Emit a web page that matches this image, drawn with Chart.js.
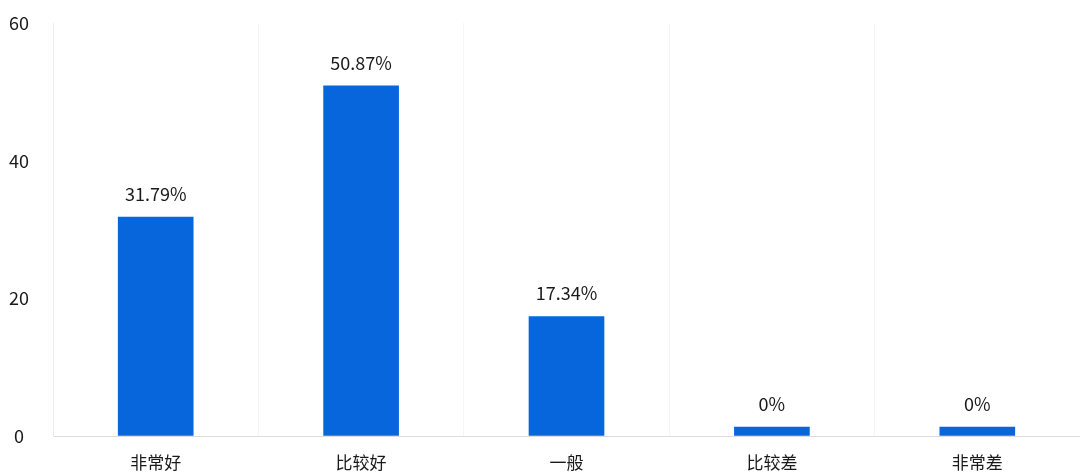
<!DOCTYPE html>
<html>
<head>
<meta charset="utf-8">
<script src="https://cdn.jsdelivr.net/npm/chart.js@4"></script>
<style>
  html, body { margin: 0; padding: 0; background: #fff; }
  #wrap { width: 1080px; height: 473px; }
</style>
</head>
<body>
<div id="wrap"><canvas id="chart"></canvas></div>
<script>
const categories = ['非常好', '比较好', '一般', '比较差', '非常差'];
const percentValues = [31.79, 50.87, 17.34, 0, 0];
const valueLabels = ['31.79%', '50.87%', '17.34%', '0%', '0%'];
const yTicks = [0, 20, 40, 60];

const fontFamily = '"Noto Sans CJK SC", "Noto Sans", sans-serif';

// draws the percentage text above each bar
const barLabels = {
  id: 'barLabels',
  afterDatasetsDraw(chart) {
    const ctx = chart.ctx;
    const meta = chart.getDatasetMeta(0);
    ctx.save();
    ctx.font = '18px ' + fontFamily;
    ctx.fillStyle = '#1a1a1a';
    ctx.textAlign = 'center';
    ctx.textBaseline = 'bottom';
    meta.data.forEach((bar, i) => {
      ctx.fillText(valueLabels[i], bar.x, bar.y - 14);
    });
    ctx.restore();
  }
};

new Chart(document.getElementById('chart'), {
  type: 'bar',
  data: {
    labels: categories,
    datasets: [{
      data: percentValues,
      backgroundColor: '#0866dc',
      barThickness: 75,
      minBarLength: 9
    }]
  },
  options: {
    responsive: true,
    maintainAspectRatio: false,
    animation: false,
    layout: { padding: { top: 23, right: 0, left: 0, bottom: 0 } },
    plugins: {
      legend: { display: false },
      tooltip: { enabled: false }
    },
    scales: {
      x: {
        grid: { color: '#f5f5f5', drawTicks: false, offset: true },
        border: { color: '#dcdcdc' },
        ticks: { color: '#1a1a1a', padding: 16, font: { family: fontFamily, size: 17 } },
        afterFit(scale) { scale.height = 37; }
      },
      y: {
        min: 0,
        max: 60,
        afterBuildTicks(scale) { scale.ticks = yTicks.map(v => ({ value: v })); },
        grid: { color: 'rgba(0,0,0,0)', drawTicks: false },
        border: { color: '#ececec' },
        ticks: { color: '#1a1a1a', padding: 24, crossAlign: 'center', font: { family: fontFamily, size: 18 } },
        afterFit(scale) {
          scale.width = 53;
          scale.paddingTop = 0;
          scale.paddingBottom = 0;
        }
      }
    }
  },
  plugins: [barLabels]
});
</script>
</body>
</html>
